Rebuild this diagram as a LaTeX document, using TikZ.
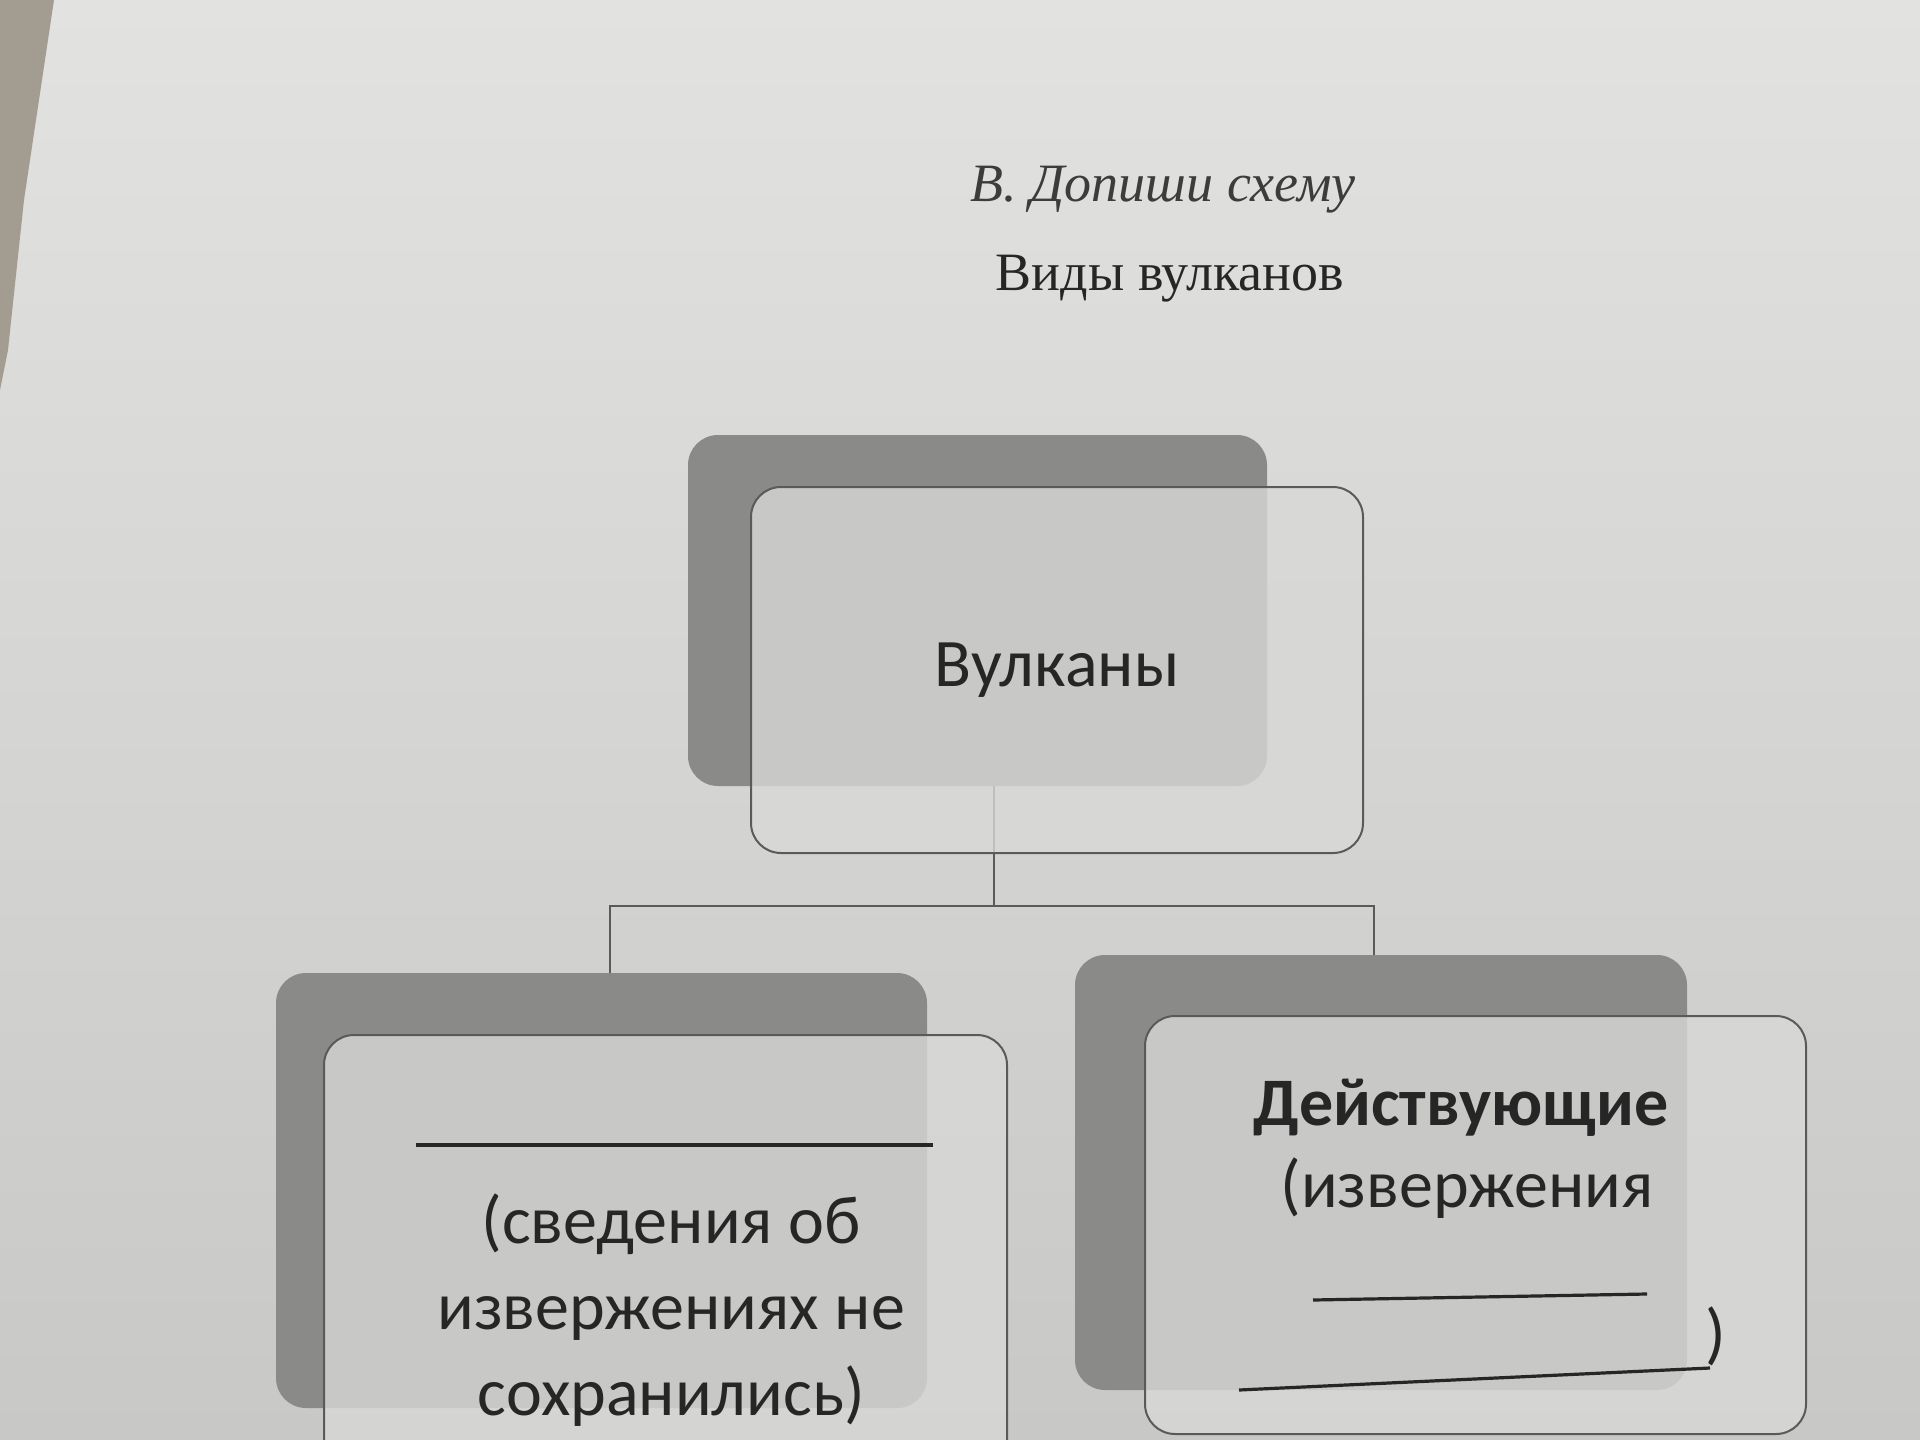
\documentclass[tikz,border=0pt]{standalone}
\usepackage{fontspec}
\setmainfont{Liberation Serif}
\newfontfamily\carl{Carlito}
\definecolor{paperA}{HTML}{E2E2E0}
\definecolor{paperB}{HTML}{C8C8C6}
\definecolor{shadowgray}{HTML}{8A8A88}
\definecolor{frontc}{HTML}{D8D8D6}
\definecolor{edgegray}{HTML}{5A5A58}
\definecolor{inkc}{HTML}{262626}
\definecolor{tablec}{HTML}{A39C90}
\tikzset{
  shadowbox/.style={rectangle, rounded corners=30pt, fill=shadowgray, draw=none, inner sep=0pt, outer sep=0pt},
  frontbox/.style={rectangle, rounded corners=30pt, fill=frontc, fill opacity=0.8, text opacity=1, draw=edgegray, draw opacity=1, line width=2pt, inner sep=0pt, outer sep=0pt, text=inkc},
  conn/.style={draw=edgegray, line width=2pt},
  blank/.style={draw=inkc, line width=3.2pt},
  boxtext/.style={font=\carl\fontsize{68}{86}\selectfont, text=inkc, align=center, inner sep=0pt}
}
\begin{document}
\begin{tikzpicture}[x=1pt,y=-1pt]
\useasboundingbox (0,0) rectangle (1920,1440);
\clip (0,0) rectangle (1920,1440);
% paper
\shade[top color=paperA, bottom color=paperB] (0,0) rectangle (1920,1440);
\fill[tablec] (0,0) -- (54,0) -- (24,200) -- (8,350) -- (0,390) -- cycle;
% titles
\node[font=\itshape\fontsize{54}{60}\selectfont, text=inkc!90, inner sep=0pt] (t1) at (1163,190) {В. Допиши схему};
\node[font=\fontsize{54}{60}\selectfont, text=inkc, inner sep=0pt] (t2) at (1170,279) {Виды вулканов};
% shadows
\node[shadowbox, minimum width=579pt, minimum height=351pt] (tsh) at (977.5,610.5) {};
\node[shadowbox, minimum width=651pt, minimum height=435pt] (lsh) at (601.5,1190.5) {};
\node[shadowbox, minimum width=612pt, minimum height=435pt] (rsh) at (1381,1172.5) {};
% connectors
\coordinate (j) at (994,906);
\coordinate (lj) at (610,906);
\coordinate (rj) at (1374,906);
\draw[conn] (j |- tsh.south) -- (j);
\draw[conn] (lj |- lsh.north) -- (lj) -- (rj) -- (rj |- rsh.north);
% front boxes
\node[frontbox, minimum width=612pt, minimum height=366pt, font=\carl\fontsize{68}{80}\selectfont] (tf) at (1057,670) {Вулканы};
\node[frontbox, minimum width=683pt, minimum height=465pt] (lf) at (665.5,1267.5) {};
\node[frontbox, minimum width=661pt, minimum height=418pt] (rf) at (1475.5,1225) {};
% left box content
\coordinate (la) at (416,1145);
\coordinate (lb) at (933,1145);
\draw[blank] (la) -- (lb);
\node[boxtext] (ltext) at (671,1310) {(сведения об\\извержениях не\\сохранились)};
% right box content
\node[boxtext, font=\carl\bfseries\fontsize{68}{86}\selectfont] (rtitle) at (1461,1108) {Действующие};
\node[boxtext] (rtext) at (1467,1188) {(извержения};
\coordinate (ra) at (1313,1300);
\coordinate (rb) at (1647,1294);
\draw[blank] (ra) -- (rb);
\coordinate (rc) at (1239,1390);
\coordinate (rd) at (1710,1368);
\draw[blank] (rc) -- (rd);
\node[boxtext] (rparen) at (1716,1336) {)};
\end{tikzpicture}
\end{document}
